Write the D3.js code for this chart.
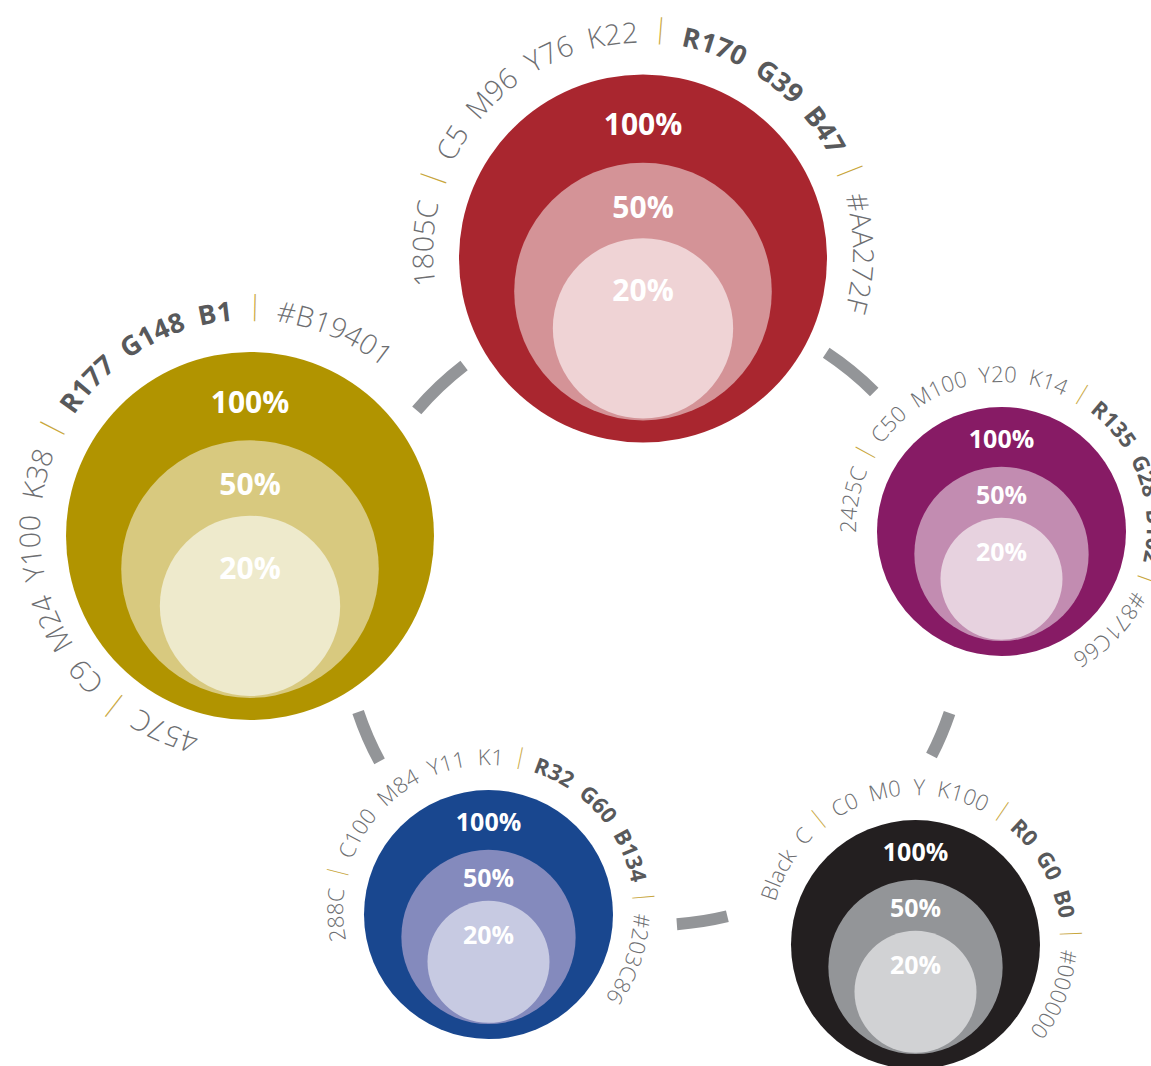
<!DOCTYPE html>
<html><head><meta charset="utf-8">
<script src="https://cdn.jsdelivr.net/npm/d3@7"></script>
<style>body{margin:0;background:#fff} svg{display:block}</style>
</head><body>
<svg id="chart" width="1151" height="1066"></svg>
<script>
// ---- data ----
const pantone = ["1805C","457C","2425C","288C","Black C"];
const cmyk = ["C5 M96 Y76 K22","C9 M24 Y100 K38","C50 M100 Y20 K14","C100 M84 Y11 K1","C0 M0 Y K100"];
const rgbLabels = ["R170 G39 B47","R177 G148 B1","R135 G28 B102","R32 G60 B134","R0 G0 B0"];
const hexLabels = ["#AA272F","#B19401","#871C66","#203C86","#000000"];
const tintLabels = ["100%","50%","20%"];
const tint100 = ["#A9262F","#B19400","#871B65","#19478F","#231F20"];
const tint50  = ["#D49397","#D8C97F","#C28CB1","#848ABD","#939598"];
const tint20  = ["#EFD3D5","#EEEACC","#E7D2DF","#C7CAE2","#D1D2D4"];

// ---- layout ----
const layout = [
  {cx:643,   cy:258.5, r:184,   size:"big",   mid:3.5},
  {cx:250,   cy:536,   r:184,   size:"big",   mid:-63.5},
  {cx:1001.5,cy:531.5, r:124.5, size:"small", mid:29.5},
  {cx:488.5, cy:914.5, r:124.5, size:"small", mid:12.5},
  {cx:915.5, cy:944.5, r:124.5, size:"small", mid:27}
];
const sizes = {
  big:   {pct:30, light:28.5, bold:27, gap:26, ringDy:-6, sepGap:14},
  small: {pct:25, light:22,   bold:22, gap:21, ringDy:-4, sepGap:9}
};
const hub = {cx:654, cy:613, r0:306, r1:318};
const connectors = [[-49.5,-37.5],[33.5,44.9],[108.7,117.2],[166.4,175.8],[241.6,251.5]];

const svg = d3.select("#chart");
const defs = svg.append("defs");
const rad = d => d*Math.PI/180;

// connectors
const arcGen = d3.arc().innerRadius(hub.r0).outerRadius(hub.r1);
svg.append("g").attr("transform",`translate(${hub.cx},${hub.cy})`)
  .selectAll("path").data(connectors).join("path")
  .attr("d", d => arcGen({startAngle:rad(d[0]), endAngle:rad(d[1])}))
  .attr("fill","#939598");

const tints = [tint100, tint50, tint20];
const rScale = d3.scaleOrdinal().domain(tintLabels).range([1, 0.7, 0.49]);
const dyScale = d3.scaleOrdinal().domain(tintLabels).range([0, 0.18, 0.38]);
const labScale = d3.scaleOrdinal().domain(tintLabels).range([-0.67, -0.222, 0.233]);

const NB = "\u00A0";
const sp = s => s.split(" ").join(NB+NB);

layout.forEach((L,i) => {
  const S = sizes[L.size];
  const g = svg.append("g");
  tintLabels.forEach((t,k) => {
    g.append("circle")
      .attr("cx", L.cx).attr("cy", L.cy + dyScale(t)*L.r)
      .attr("r", rScale(t)*L.r)
      .attr("fill", tints[k][i]);
  });
  tintLabels.forEach((t,k) => {
    g.append("text")
      .attr("x", L.cx).attr("y", L.cy + labScale(t)*L.r)
      .attr("text-anchor","middle")
      .attr("font-family","'Open Sans', sans-serif")
      .attr("font-weight",700)
      .attr("font-size", S.pct)
      .attr("fill","#fff")
      .text(t);
  });
  // ring text
  const rr = L.r + S.gap, rcx = L.cx, rcy = L.cy + S.ringDy;
  const a0 = L.mid - 180;
  const pt = a => [rcx + rr*Math.sin(rad(a)), rcy - rr*Math.cos(rad(a))];
  const p0 = pt(a0), p1 = pt(a0+180), p2 = pt(a0+359.99);
  defs.append("path").attr("id","ring"+i)
    .attr("d", `M${p0[0]},${p0[1]} A${rr},${rr} 0 0 1 ${p1[0]},${p1[1]} A${rr},${rr} 0 0 1 ${p2[0]},${p2[1]}`);
  const txt = g.append("text")
    .attr("font-family","'Open Sans', sans-serif")
    .attr("font-size", S.light);
  const tp = txt.append("textPath").attr("href","#ring"+i)
    .attr("startOffset","50%").attr("text-anchor","middle");
  const barFs = S.bold*1.0, barDy = barFs*0.2;
  let pendingDx = 0, pendingDy = 0;
  const seg = (s, w, fs, fill) => {
    const t = tp.append("tspan").attr("font-weight",w).attr("font-size",fs).attr("fill",fill).text(s);
    if (pendingDx) t.attr("dx", pendingDx);
    if (pendingDy) t.attr("dy", pendingDy);
    pendingDx = 0; pendingDy = 0;
  };
  const sep = () => {
    tp.append("tspan").attr("fill","#C9A73E").attr("font-weight",300)
      .attr("font-size", barFs).attr("dx", S.sepGap).attr("dy", -barDy).text("|");
    pendingDx = S.sepGap; pendingDy = barDy;
  };
  seg(sp(pantone[i]), 300, S.light, "#6d6e71");
  sep();
  seg(sp(cmyk[i]), 300, S.light, "#6d6e71");
  sep();
  seg(sp(rgbLabels[i]), 700, S.bold, "#58595b");
  sep();
  seg(hexLabels[i], 300, S.light, "#6d6e71");
});
</script>
</body></html>
